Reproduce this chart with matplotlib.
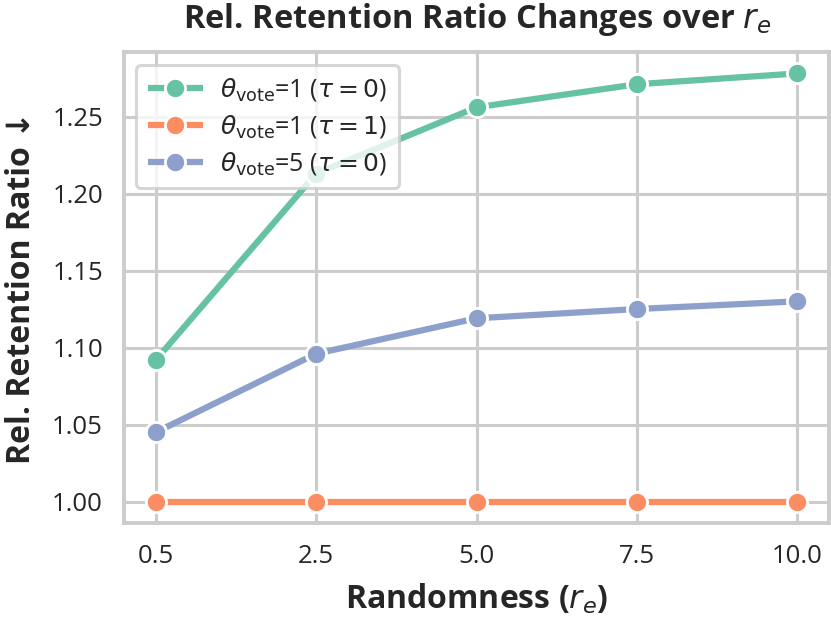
import matplotlib
matplotlib.use('Agg')
import matplotlib.pyplot as plt
import seaborn as sns
from matplotlib.lines import Line2D

# 数据
x_labels = ['0.5', '2.5', '5.0', '7.5', '10.0']
vote1_tau0 = [1.092, 1.213, 1.256, 1.271, 1.278]
vote1_tau1 = [1.000, 1.000, 1.000, 1.000, 1.000]
vote5_tau0 = [1.045, 1.096, 1.119, 1.125, 1.130]
labels = [r'$\theta_{\mathrm{vote}}$=1 ($\tau=0$)',
          r'$\theta_{\mathrm{vote}}$=1 ($\tau=1$)',
          r'$\theta_{\mathrm{vote}}$=5 ($\tau=0$)']

sns.set_theme(style='whitegrid')
plt.rcParams['font.family'] = ['Open Sans', 'Noto Sans', 'DejaVu Sans']
plt.rcParams['mathtext.fontset'] = 'dejavusans'
colors = sns.color_palette('Set2', 3)

fig = plt.figure(figsize=(8.31, 6.27), dpi=100)
ax = fig.add_axes([0.149, 0.166, 0.849, 0.751])

x = range(len(x_labels))
handles = []
for ys, c, lab in zip([vote1_tau0, vote1_tau1, vote5_tau0], colors, labels):
    ax.plot(x, ys, color=c, linewidth=4.5, marker='o', markersize=14.5,
            markeredgecolor='white', markeredgewidth=2)
    handles.append(Line2D([0], [0], color=c, linewidth=4.5, linestyle='--',
                          marker='o', markersize=14.5, markeredgecolor='white',
                          markeredgewidth=2, label=lab))

ax.set_xticks(list(x))
ax.set_xticklabels(x_labels)
ax.set_yticks([1.00, 1.05, 1.10, 1.15, 1.20, 1.25])
ax.set_yticklabels(['1.00', '1.05', '1.10', '1.15', '1.20', '1.25'])
ax.tick_params(labelsize=18.5, colors='#262626', pad=9)
ax.grid(True, color='#cccccc', linewidth=2.2)
for s in ax.spines.values():
    s.set_color('#cccccc')
    s.set_linewidth(2.8)

ax.set_title(r'Rel. Retention Ratio Changes over $r_e$', fontsize=23.5,
             fontweight='bold', color='#262626', pad=17)
ax.set_xlabel(r'Randomness ($r_e$)', fontsize=23, fontweight='bold',
              color='#262626', labelpad=10)
ax.set_ylabel('Rel. Retention Ratio ↓', fontsize=23, fontweight='bold',
              color='#262626', labelpad=10)

leg = ax.legend(handles=handles, loc='upper left', fontsize=18,
                frameon=True, framealpha=0.8, edgecolor='#cccccc',
                handlelength=2.2, borderpad=0.45, labelspacing=0.4,
                handletextpad=0.7)
leg.get_frame().set_linewidth(2.2)

plt.savefig('out.png', dpi=100)
